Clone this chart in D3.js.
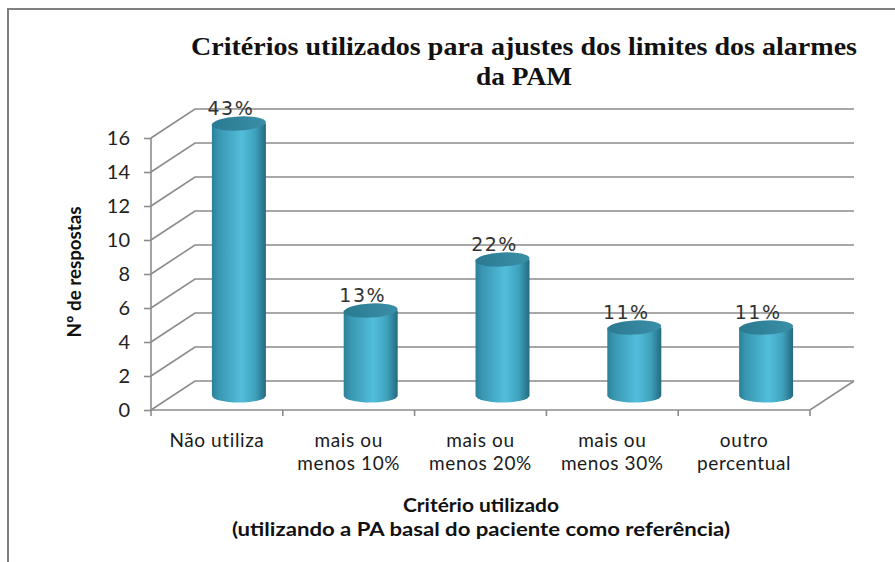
<!DOCTYPE html>
<html><head><meta charset="utf-8">
<script src="https://cdn.jsdelivr.net/npm/d3@7"></script>
<style>body{margin:0;background:#fff;} svg{display:block;}</style>
</head><body>
<svg id="chart" width="895" height="562"></svg>
<script>
const categories = ["Não utiliza", "mais ou\nmenos 10%", "mais ou\nmenos 20%", "mais ou\nmenos 30%", "outro\npercentual"];
const values = [16, 5, 8, 4, 4];
const percentLabels = ["43%", "13%", "22%", "11%", "11%"];
const yTicks = [0, 2, 4, 6, 8, 10, 12, 14, 16];
const titleLines = ["Critérios utilizados para ajustes dos limites dos alarmes", "da PAM"];
const xTitleLines = ["Critério utilizado", "(utilizando a PA basal do paciente como referência)"];
const yTitle = "Nº de respostas";

const svg = d3.select("#chart");
const x0 = 151, x1 = 810, dx = 44, dy = -29;
const x = d3.scaleBand().domain(categories).range([x0, x1]);
const y = d3.scaleLinear().domain([0, 16]).range([410, 138]);
const grid = "#8c8c8c";

// outer border
svg.append("path").attr("d", "M8,562 L8,9 L895,9").attr("fill", "none").attr("stroke", "#808080").attr("stroke-width", 2);

// title
const titleWidths = [666, 96];
svg.append("g").selectAll("text").data(titleLines).join("text")
  .attr("x", 524).attr("y", (d, i) => 55 + i * 30)
  .attr("text-anchor", "middle")
  .attr("font-family", "Liberation Serif, serif").attr("font-weight", "bold")
  .attr("font-size", 26).attr("fill", "#111")
  .attr("textLength", (d, i) => titleWidths[i]).attr("lengthAdjust", "spacingAndGlyphs")
  .text(d => d);

// gridlines (side wall + back wall)
const g = svg.append("g").attr("fill", "none").attr("stroke", grid).attr("stroke-width", 1.6);
yTicks.forEach(t => {
  g.append("path").attr("d", `M${x0},${y(t)} L${x0 + dx},${y(t) + dy} L${x1 + dx},${y(t) + dy}`);
});
// floor
g.append("path").attr("d", `M${x0},${y(0)} L${x1},${y(0)} L${x1 + dx},${y(0) + dy}`);
// vertical axis
g.append("path").attr("d", `M${x0},${y(0)} L${x0},${y(16)}`);
// category ticks
const bounds = categories.map(c => x(c)).concat([x1]);
bounds.forEach(b => g.append("path").attr("d", `M${b},${y(0)} L${b},${y(0) + 6}`));

// y axis ticks and labels
const yAxis = d3.axisLeft(y).tickValues(yTicks).tickSize(7).tickSizeOuter(0).tickPadding(14);
const ya = svg.append("g").attr("transform", `translate(${x0},0)`).call(yAxis);
ya.select(".domain").remove();
ya.selectAll("line").attr("stroke", grid).attr("stroke-width", 1.6);
ya.selectAll("text").attr("font-family", "Lato, sans-serif").attr("font-size", 20).attr("fill", "#222");

// gradients
const defs = svg.append("defs");
const bodyGrad = defs.append("linearGradient").attr("id", "bodyGrad").attr("x1", "0").attr("x2", "1").attr("y1", "0").attr("y2", "0");
[["0%", "#2b8199"], ["12%", "#3896b0"], ["55%", "#52bedc"], ["80%", "#3fa2bd"], ["100%", "#236a80"]]
  .forEach(s => bodyGrad.append("stop").attr("offset", s[0]).attr("stop-color", s[1]));
const topGrad = defs.append("linearGradient").attr("id", "topGrad").attr("x1", "0").attr("x2", "1").attr("y1", "0").attr("y2", "0");
[["0%", "#2a7a90"], ["100%", "#3a8fa8"]]
  .forEach(s => topGrad.append("stop").attr("offset", s[0]).attr("stop-color", s[1]));

// cylinders
const rx = 27, ry = 7;
const bars = svg.append("g").selectAll("g").data(values).join("g");
bars.each(function (v, i) {
  const cx = x(categories[i]) + x.bandwidth() / 2 + dx / 2;
  const yt = y(v) + dy / 2, yb = y(0) + dy / 2;
  const sel = d3.select(this);
  sel.append("path")
    .attr("d", `M${cx - rx},${yt} L${cx - rx},${yb} A${rx},${ry} 0 0 0 ${cx + rx},${yb} L${cx + rx},${yt} Z`)
    .attr("fill", "url(#bodyGrad)");
  sel.append("ellipse").attr("cx", cx).attr("cy", yt).attr("rx", rx).attr("ry", ry)
    .attr("transform", `rotate(-3,${cx},${yt})`)
    .attr("fill", "url(#topGrad)");
  sel.append("text").attr("x", cx - 8).attr("y", yt - 9)
    .attr("text-anchor", "middle").attr("font-family", "DejaVu Sans, sans-serif")
    .attr("font-size", 19).attr("letter-spacing", 1.5).attr("fill", "#333").text(percentLabels[i]);
});

// category labels
const cl = svg.append("g").selectAll("text").data(categories).join("text")
  .attr("text-anchor", "middle").attr("font-family", "Lato, sans-serif").attr("font-size", 19)
  .attr("letter-spacing", 0.6).attr("fill", "#1a1a1a");
cl.each(function (c) {
  const cx = x(c) + x.bandwidth() / 2;
  c.split("\n").forEach((line, j) => {
    d3.select(this).append("tspan").attr("x", cx).attr("y", 447 + j * 23).text(line);
  });
});

// axis titles
const xTitleWidths = [156, 498];
svg.append("g").selectAll("text").data(xTitleLines).join("text")
  .attr("x", 481).attr("y", (d, i) => 512 + i * 24).attr("text-anchor", "middle")
  .attr("font-family", "Lato, sans-serif").attr("font-weight", "bold").attr("font-size", 19)
  .attr("textLength", (d, i) => xTitleWidths[i]).attr("lengthAdjust", "spacingAndGlyphs")
  .attr("fill", "#111").text(d => d);
svg.append("text").attr("transform", "translate(81,272) rotate(-90)").attr("text-anchor", "middle")
  .attr("font-family", "Lato, sans-serif").attr("font-weight", "bold").attr("font-size", 19)
  .attr("textLength", 131).attr("lengthAdjust", "spacingAndGlyphs")
  .attr("fill", "#111").text(yTitle);
</script>
</body></html>
